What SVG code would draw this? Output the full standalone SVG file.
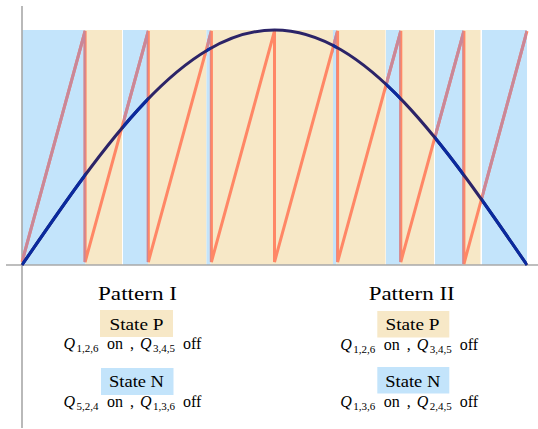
<svg xmlns="http://www.w3.org/2000/svg" width="538" height="429" viewBox="0 0 538 429">
<style>
.b{fill:#C3E4FB}
.y{fill:#F7E8C7}
.saw{fill:none;stroke:#FF8766;stroke-width:3}
.sawb{stroke:#C98799}
.sine{fill:none;stroke:#2C2468;stroke-width:3}
.sineb{stroke:#0A2A9E}
.ax{stroke:#A8A8A8;stroke-width:1.6;fill:none}
text{font-family:"Liberation Serif","Times New Roman",serif;fill:#000}
.t{font-size:18.5px}
.s{font-size:17px}
.q{font-size:16px}
.i{font-style:italic}
.sub{font-size:11px}
</style>
<defs>
<clipPath id="blueClip">
<rect x="22" y="28" width="63.5" height="240"/>
<rect x="123" y="28" width="25" height="240"/>
<rect x="206.5" y="28" width="4" height="240"/>
<rect x="333" y="28" width="3.5" height="240"/>
<rect x="386" y="28" width="14.5" height="240"/>
<rect x="435" y="28" width="28.5" height="240"/>
<rect x="482" y="28" width="45" height="240"/>
</clipPath>
<path id="sawPath" d="M22,262 L85.1,31 L85.1,262 L148.3,31 L148.3,262 L211.4,31 L211.4,262 L274.5,31 L274.5,262 L337.6,31 L337.6,262 L400.8,31 L400.8,262 L463.9,31 L463.9,264 L527,31"/>
<path id="sinePath" d="M22,265 C104.35,144.61 183.12,30 274.5,30 C365.88,30 444.65,144.61 527,265"/>
</defs>

<g id="bands">
<rect class="b" x="22" y="30" width="63.5" height="235"/>
<rect class="y" x="85.5" y="30" width="36.5" height="235"/>
<rect class="b" x="123" y="30" width="25" height="235"/>
<rect class="y" x="148" y="30" width="58.5" height="235"/>
<rect class="b" x="206.5" y="30" width="4" height="235"/>
<rect class="y" x="210.5" y="30" width="122.5" height="235"/>
<rect class="b" x="333" y="30" width="3.5" height="235"/>
<rect class="y" x="336.5" y="30" width="49" height="235"/>
<rect class="b" x="386" y="30" width="14.5" height="235"/>
<rect class="y" x="400.5" y="30" width="33.5" height="235"/>
<rect class="b" x="435" y="30" width="28.5" height="235"/>
<rect class="y" x="463.5" y="30" width="17" height="235"/>
<rect class="b" x="482" y="30" width="45" height="235"/>
</g>

<g id="axes">
<line class="ax" x1="22" y1="6" x2="22" y2="428"/>
<line class="ax" x1="6" y1="265" x2="538" y2="265"/>
</g>

<g id="carrier">
<use href="#sawPath" class="saw"/>
<use href="#sawPath" class="saw sawb" clip-path="url(#blueClip)"/>
</g>

<g id="reference">
<use href="#sinePath" class="sine"/>
<use href="#sinePath" class="sine sineb" clip-path="url(#blueClip)"/>
</g>

<g id="pattern-I">
<text class="t" x="137.5" y="300" text-anchor="middle" textLength="79" lengthAdjust="spacingAndGlyphs">Pattern I</text>
<g id="stateP-I">
<rect class="y" x="100" y="310" width="73" height="27"/>
<text class="s" x="136.5" y="329.5" text-anchor="middle" textLength="54" lengthAdjust="spacingAndGlyphs">State P</text>
</g>
<text class="q" y="349"><tspan class="i" x="63.5">Q</tspan><tspan class="sub" x="76.5" dy="3">1,2,6</tspan><tspan x="107" dy="-3">on</tspan><tspan x="130">,</tspan><tspan class="i" x="140">Q</tspan><tspan class="sub" x="153" dy="3">3,4,5</tspan><tspan x="183" dy="-3">off</tspan></text>
<g id="stateN-I">
<rect class="b" x="101" y="368" width="72.5" height="27"/>
<text class="s" x="136.5" y="387" text-anchor="middle" textLength="55" lengthAdjust="spacingAndGlyphs">State N</text>
</g>
<text class="q" y="406.5"><tspan class="i" x="63.5">Q</tspan><tspan class="sub" x="76.5" dy="3">5,2,4</tspan><tspan x="107" dy="-3">on</tspan><tspan x="130">,</tspan><tspan class="i" x="140">Q</tspan><tspan class="sub" x="153" dy="3">1,3,6</tspan><tspan x="183" dy="-3">off</tspan></text>
</g>

<g id="pattern-II">
<text class="t" x="411.7" y="300" text-anchor="middle" textLength="86" lengthAdjust="spacingAndGlyphs">Pattern II</text>
<g id="stateP-II">
<rect class="y" x="377.3" y="311" width="72" height="26.5"/>
<text class="s" x="412.5" y="330" text-anchor="middle" textLength="54" lengthAdjust="spacingAndGlyphs">State P</text>
</g>
<text class="q" y="349.5"><tspan class="i" x="340.2">Q</tspan><tspan class="sub" x="353.2" dy="3">1,2,6</tspan><tspan x="383.7" dy="-3">on</tspan><tspan x="406.7">,</tspan><tspan class="i" x="416.7">Q</tspan><tspan class="sub" x="429.7" dy="3">3,4,5</tspan><tspan x="459.7" dy="-3">off</tspan></text>
<g id="stateN-II">
<rect class="b" x="377.3" y="367" width="72" height="26.5"/>
<text class="s" x="412.8" y="387" text-anchor="middle" textLength="55" lengthAdjust="spacingAndGlyphs">State N</text>
</g>
<text class="q" y="406.5"><tspan class="i" x="340.2">Q</tspan><tspan class="sub" x="353.2" dy="3">1,3,6</tspan><tspan x="383.7" dy="-3">on</tspan><tspan x="406.7">,</tspan><tspan class="i" x="416.7">Q</tspan><tspan class="sub" x="429.7" dy="3">2,4,5</tspan><tspan x="459.7" dy="-3">off</tspan></text>
</g>
</svg>
